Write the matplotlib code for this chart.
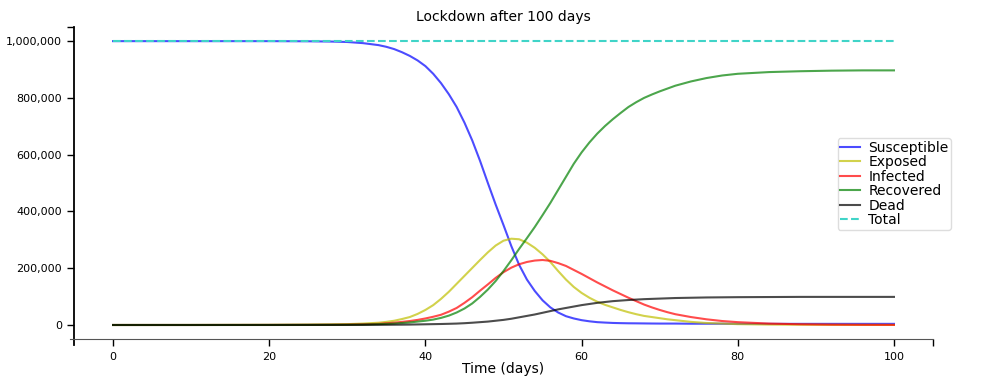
import matplotlib.pyplot as plt
from matplotlib.ticker import StrMethodFormatter

# time grid (days) and compartment sizes (thousands of people)
days = [0, 10, 20, 25, 28, 30, 32,
        34, 35, 36, 37, 38, 39, 40, 41, 42, 43, 44, 45, 46, 47, 48, 49, 50, 51, 52, 53,
        54, 55, 56, 57, 58, 59, 60, 61, 62, 63, 64, 65, 66, 67, 68, 69, 70, 71, 72,
        74, 76, 78, 80, 84, 88, 92, 96, 100]

susceptible = [1000, 1000, 1000, 999.5, 998.5, 997, 993,
               986, 980, 972, 961, 948, 932, 912, 885, 852, 813, 768, 713, 650, 578, 500, 424, 352, 278, 212, 160,
               120, 87, 62, 44, 31, 23, 17, 13, 10, 8.5, 7.2, 6.5, 6, 5.8, 5.5, 5.2, 5, 5, 5,
               4.5, 4.5, 4.5, 4, 4, 4, 4, 4, 4]
exposed = [0, 0.1, 0.5, 1.2, 2, 3, 5,
           8, 11, 15, 21, 28, 39, 53, 70, 92, 117, 145, 173, 201, 229, 256, 280, 297, 304, 302, 290,
           272, 249, 222, 190, 160, 134, 113, 96, 82, 71, 62, 53, 45, 38, 32, 28, 24, 20, 17,
           11, 7, 5, 3, 1.5, 1, 0.5, 0.3, 0.2]
infected = [0, 0, 0.3, 0.6, 1, 1.5, 2.5,
            4, 6, 8, 11, 14, 18, 23, 29, 36, 47, 60, 78, 98, 121, 143, 166, 186, 202, 214, 222,
            227, 229, 226, 218, 208, 194, 180, 165, 150, 136, 122, 109, 96, 84, 72, 62, 53, 45, 38,
            28, 20, 14, 10, 5, 2.5, 1.2, 0.6, 0.3]
recovered = [0, 0, 0.2, 0.5, 0.8, 1, 1.5,
             3, 4, 5, 7, 9, 12, 15, 19, 25, 33, 44, 58, 76, 99, 125, 155, 190, 228, 268, 306,
             345, 387, 430, 476, 522, 568, 608, 643, 674, 701, 725, 747, 768, 785, 800, 812, 823, 833, 843,
             858, 870, 879, 885, 891, 894, 896, 897, 897]
dead = [0, 0, 0, 0.1, 0.15, 0.2, 0.3,
        0.5, 0.7, 1, 1.2, 1.5, 2, 2.5, 3, 3.5, 4.2, 5, 6.3, 8, 10, 12, 15, 18, 22, 27, 32,
        37, 43, 49, 55, 60, 65, 70, 74, 78, 81, 84, 86, 88, 89.5, 91, 92, 93, 94, 95,
        96, 97, 97.5, 98, 98.5, 99, 99, 99, 99]
total_days = [0, 100]
total = [1000, 1000]

series = [
    (susceptible, 'Susceptible', 'b'),
    (exposed, 'Exposed', 'y'),
    (infected, 'Infected', 'r'),
    (recovered, 'Recovered', 'g'),
    (dead, 'Dead', 'k'),
]

fig = plt.figure(figsize=(10, 3.85), dpi=100)
ax = fig.add_axes([0.074, 0.119, 0.859, 0.811])

for values, label, color in series:
    ax.plot(days, [v * 1000 for v in values], color, alpha=0.7, lw=1.5, label=label)
ax.plot(total_days, [v * 1000 for v in total], '--', color='#40d4c8', lw=1.5, label='Total')

ax.set_xlim(-5, 105)
ax.set_ylim(-50000, 1050000)
ax.set_xticks([0, 20, 40, 60, 80, 100])
ax.set_yticks([0, 200000, 400000, 600000, 800000, 1000000])
ax.yaxis.set_major_formatter(StrMethodFormatter('{x:,.0f}'))
# end marks of the axis lines
ax.set_xticks([105], minor=True)
ax.set_yticks([1050000], minor=True)
ax.tick_params(which='both', direction='out', length=5, width=1, labelsize=8, colors='black')
ax.tick_params(axis='x', pad=4)

for side in ['top', 'right']:
    ax.spines[side].set_visible(False)
ax.spines['left'].set_bounds(-70000, 1050000)
ax.spines['left'].set_linewidth(1.3)
ax.spines['bottom'].set_bounds(-5.5, 105)
ax.spines['bottom'].set_color('#555555')

ax.set_title('Lockdown after 100 days', fontsize=10, pad=4)
ax.set_xlabel('Time (days)', fontsize=10, labelpad=0)

leg = ax.legend(loc='upper left', bbox_to_anchor=(0.889, 0.644), borderaxespad=0,
                fontsize=10, labelspacing=0.03, handlelength=1.4, handletextpad=0.6,
                borderpad=0.2, fancybox=True, framealpha=1)
leg.get_frame().set_edgecolor('#dddddd')

fig.savefig('out.png', dpi=100)
